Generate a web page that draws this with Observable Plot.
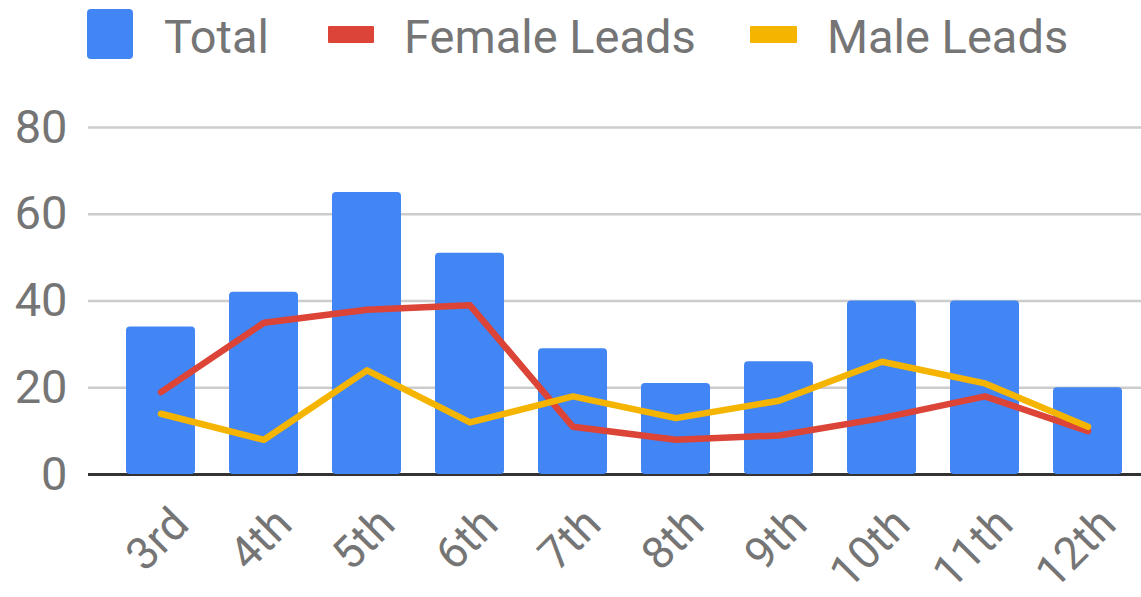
<!DOCTYPE html>
<html>
<head>
<meta charset="utf-8">
<script src="https://cdn.jsdelivr.net/npm/d3@7"></script>
<script src="https://cdn.jsdelivr.net/npm/@observablehq/plot@0.6"></script>
<style>
  html, body { margin: 0; padding: 0; background: #fff; }
  body { font-family: Roboto, "Noto Sans", sans-serif; width: 1141px; }
  #legend, #chart { display: block; line-height: 0; }
  svg { display: block; }
</style>
</head>
<body>
<div id="legend"></div>
<div id="chart"></div>
<script>
// ---- data ----
const grades = ["3rd", "4th", "5th", "6th", "7th", "8th", "9th", "10th", "11th", "12th"];
const total  = [34, 42, 65, 51, 29, 21, 26, 40, 40, 20];
const female = [19, 35, 38, 39, 11, 8, 9, 13, 18, 10];
const male   = [14, 8, 24, 12, 18, 13, 17, 26, 21, 11];
const yTicks = [0, 20, 40, 60, 80];
const seriesNames = ["Total", "Female Leads", "Male Leads"];
const seriesColors = ["#4285F4", "#DB4437", "#F4B400"];

const textColor = "#757575";
const fontSize = 47;

// ---- legend (above the plot SVG) ----
const legendLayout = [
  {swatch: {x: 87, y: 9, w: 46, h: 50, rx: 4}, tx: 164},
  {swatch: {x: 328, y: 26, w: 46, h: 17, rx: 1}, tx: 404},
  {swatch: {x: 750, y: 26, w: 47, h: 17, rx: 1}, tx: 827}
];
const legend = d3.create("svg")
  .attr("width", 1141).attr("height", 75)
  .attr("font-family", "Roboto, sans-serif")
  .attr("font-size", fontSize);
seriesNames.forEach((name, i) => {
  const L = legendLayout[i];
  legend.append("rect")
    .attr("x", L.swatch.x).attr("y", L.swatch.y)
    .attr("width", L.swatch.w).attr("height", L.swatch.h)
    .attr("rx", L.swatch.rx).attr("fill", seriesColors[i]);
  legend.append("text")
    .attr("x", L.tx).attr("y", 53)
    .attr("fill", textColor)
    .text(name);
});
document.getElementById("legend").append(legend.node());

// ---- chart ----
const data = grades.map((g, i) => ({grade: g, total: total[i], female: female[i], male: male[i]}));

const chart = Plot.plot({
  width: 1141,
  height: 522,
  marginLeft: 88,
  marginRight: 0,
  marginTop: 52,
  marginBottom: 123,
  style: {fontFamily: "Roboto, sans-serif", fontSize: fontSize + "px", color: textColor, background: "#fff", overflow: "visible"},
  x: {domain: grades, paddingInner: 0.334, paddingOuter: 0.167, insetLeft: 19, label: null},
  y: {domain: [0, 80], label: null},
  marks: [
    Plot.ruleY(yTicks.filter(d => d !== 0), {stroke: "#cccccc", strokeWidth: 2.7}),
    Plot.ruleY([0], {stroke: "#333333", strokeWidth: 3}),
    Plot.barY(data, {x: "grade", y: "total", fill: seriesColors[0], rx: 4}),
    Plot.lineY(data, {x: "grade", y: "female", stroke: seriesColors[1], strokeWidth: 6.5, strokeLinejoin: "round"}),
    Plot.lineY(data, {x: "grade", y: "male", stroke: seriesColors[2], strokeWidth: 6.5, strokeLinejoin: "round"}),
    Plot.axisY({ticks: yTicks, tickSize: 0, tickPadding: 21, label: null, fill: textColor}),
    Plot.axisX({tickRotate: -45, tickSize: 0, tickPadding: 42, dx: 20, fontSize: 45, label: null, fill: textColor})
  ]
});
document.getElementById("chart").append(chart);
</script>
</body>
</html>
